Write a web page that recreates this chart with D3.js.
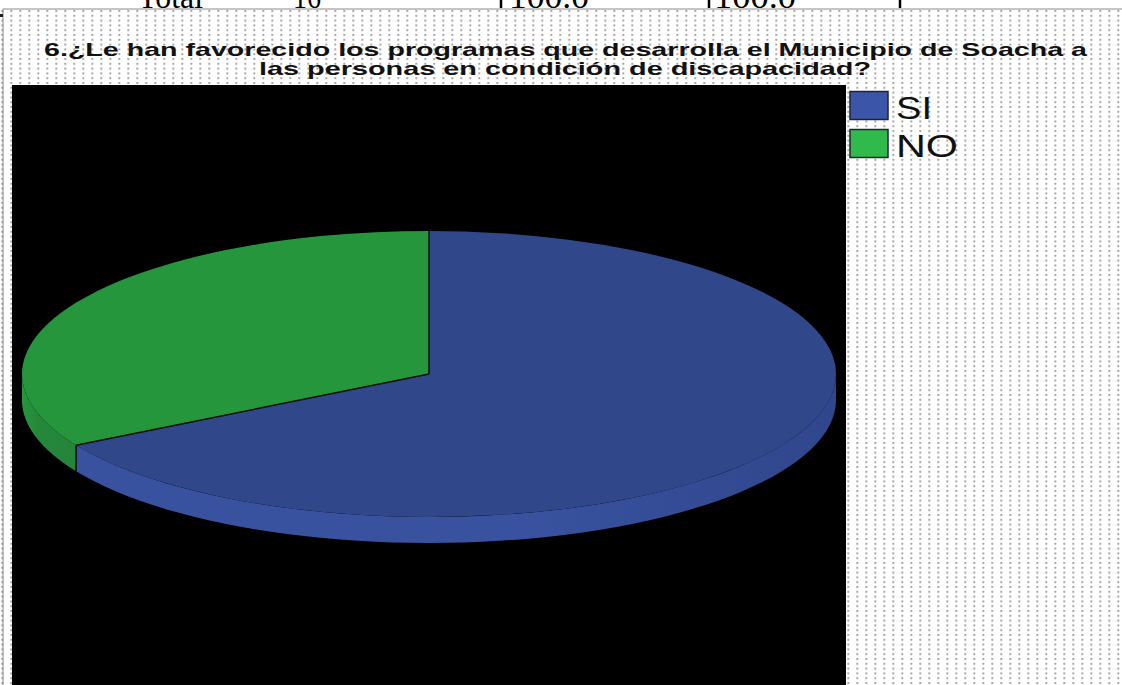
<!DOCTYPE html>
<html><head><meta charset="utf-8">
<script src="https://cdn.jsdelivr.net/npm/d3@7/dist/d3.min.js"></script>
<style>html,body{margin:0;padding:0;background:#fff;overflow:hidden}svg{display:block}</style>
</head><body><svg id="c" width="1122" height="685"></svg>
<script>
const categories = ["SI", "NO"];
const values = [66.7, 33.3];
const colorsTop = ["#30478a", "#26963c"];
const colorsSideStops = [["#38529f", "#38529f", "#30468c"], ["#26963c", "#24873a", "#24853a"]];
const colorsLegend = ["#3b55a8", "#2fba4b"];
const titleLines = ["6.¿Le han favorecido los programas que desarrolla el Municipio de Soacha a",
                    "las personas en condición de discapacidad?"];
const tableCells = ["Total", "16", "100.0", "100.0"];

const W = 1122, H = 685;
const svg = d3.select("#c");
const defs = svg.append("defs");
const pat = defs.append("pattern").attr("id","dots").attr("patternUnits","userSpaceOnUse")
  .attr("x",1.3).attr("y",10).attr("width",9).attr("height",4.8);
pat.append("rect").attr("width",9).attr("height",4.8).attr("fill","#fff");
pat.append("rect").attr("x",0).attr("y",0).attr("width",2).attr("height",2).attr("fill","#a8a8a8");

const cx = 429, cy = 374, rx = 407, ry = 143, depth = 26;
const pie = d3.pie().sort(null).value(d=>d)(values);
const px = a => cx + rx*Math.sin(a), py = a => cy - ry*Math.cos(a);

// side wall shading runs from the slice's front edge towards its far edge
pie.forEach((s,i)=>{
  const a0 = Math.max(s.startAngle, Math.PI/2), a1 = Math.min(s.endAngle, 3*Math.PI/2);
  const g = defs.append("linearGradient").attr("id","side"+i).attr("gradientUnits","userSpaceOnUse")
    .attr("x1",px(a1)).attr("x2",px(a0)).attr("y1",0).attr("y2",0);
  if (i === 0) { g.attr("x1",px(a1)).attr("x2",px(a0)); }
  colorsSideStops[i].forEach((c,k)=>g.append("stop").attr("offset",i===0?[0,0.6,1][k]:[0,0.35,1][k]).attr("stop-color",c));
});

svg.append("rect").attr("width",W).attr("height",H).attr("fill","#fff");

// table row above the chart, cut by the picture's top edge as in the reference
const topG = svg.append("g")
  .attr("font-family","'Liberation Serif',serif").attr("font-size",33).attr("fill","#000");
const cellX = d3.scaleOrdinal().domain(tableCells.map((d,i)=>i)).range([138,293,509,714]);
const cellW = [65,28,80,82];
tableCells.forEach((t,i)=>topG.append("text").attr("x",cellX(i)).attr("y",8)
  .attr("textLength",cellW[i]).attr("lengthAdjust","spacingAndGlyphs").text(t));
[501,709,900].forEach(x=>topG.append("rect").attr("x",x-1.25).attr("y",0).attr("width",2.5).attr("height",8).attr("fill","#000"));

// frame
svg.append("rect").attr("x",1).attr("y",9).attr("width",W-1).attr("height",H-9).attr("fill","url(#dots)");
svg.append("path").attr("d",`M3,${H}V9H${W}`).attr("fill","none").attr("stroke","#8a8a8a").attr("stroke-width",1);
svg.append("rect").attr("x",0).attr("y",14).attr("width",3).attr("height",3).attr("fill","#222");

// title
const titleG = svg.append("g").attr("font-family","'Liberation Sans',Arial,sans-serif")
  .attr("font-weight","bold").attr("font-size",19).attr("fill","#111").attr("text-anchor","start");
[[44,1043,56],[259,612,75]].forEach((p,i)=>{
  titleG.append("text").attr("x",p[0]).attr("y",p[2]).attr("textLength",p[1])
    .attr("lengthAdjust","spacingAndGlyphs").text(titleLines[i]);
});

// plot background
svg.append("rect").attr("x",12).attr("y",85).attr("width",834).attr("height",H-85).attr("fill","#000");

// side wall: visible for the front half of the ellipse
pie.forEach((s,i)=>{
  const a0 = Math.max(s.startAngle, Math.PI/2), a1 = Math.min(s.endAngle, 3*Math.PI/2);
  if (a1 <= a0) return;
  const p = d3.path();
  const steps = d3.range(0, 61).map(k => a0 + (a1-a0)*k/60);
  steps.forEach((a,k)=> k ? p.lineTo(px(a),py(a)) : p.moveTo(px(a),py(a)));
  steps.slice().reverse().forEach(a=>p.lineTo(px(a),py(a)+depth));
  p.closePath();
  svg.append("path").attr("d",p.toString()).attr("fill",`url(#side${i})`);
});
// vertical edge at the slice border on the front
svg.append("line").attr("x1",px(pie[1].startAngle)).attr("y1",py(pie[1].startAngle))
  .attr("x2",px(pie[1].startAngle)).attr("y2",py(pie[1].startAngle)+depth)
  .attr("stroke","#0a0f0a").attr("stroke-width",1.5);

// top faces: arcs squashed into an ellipse
const arc = d3.arc().innerRadius(0).outerRadius(rx);
const pieG = svg.append("g").attr("transform",`translate(${cx},${cy}) scale(1,${ry/rx})`);
pieG.selectAll("path").data(pie).join("path").attr("d",arc).attr("fill",(d,i)=>colorsTop[i]);

// slice borders
[0, pie[1].startAngle].forEach(a=>{
  svg.append("line").attr("x1",cx).attr("y1",cy).attr("x2",px(a)).attr("y2",py(a))
    .attr("stroke","#06100a").attr("stroke-width",1.5);
});

// legend
const legY = d3.scaleBand().domain(categories).range([90,166]).paddingInner(0);
const legG = svg.append("g");
categories.forEach((c,i)=>{
  const y = legY(c);
  legG.append("rect").attr("x",850).attr("y",y+1.5).attr("width",38).attr("height",28)
    .attr("fill",colorsLegend[i]).attr("stroke","#1c2430").attr("stroke-width",1.5);
  legG.append("text").attr("x",896).attr("y",y+29).attr("font-family","'Liberation Sans',Arial,sans-serif")
    .attr("font-size",32).attr("fill","#111").attr("textLength",i?62:36).attr("lengthAdjust","spacingAndGlyphs").text(c);
});
</script></body></html>
